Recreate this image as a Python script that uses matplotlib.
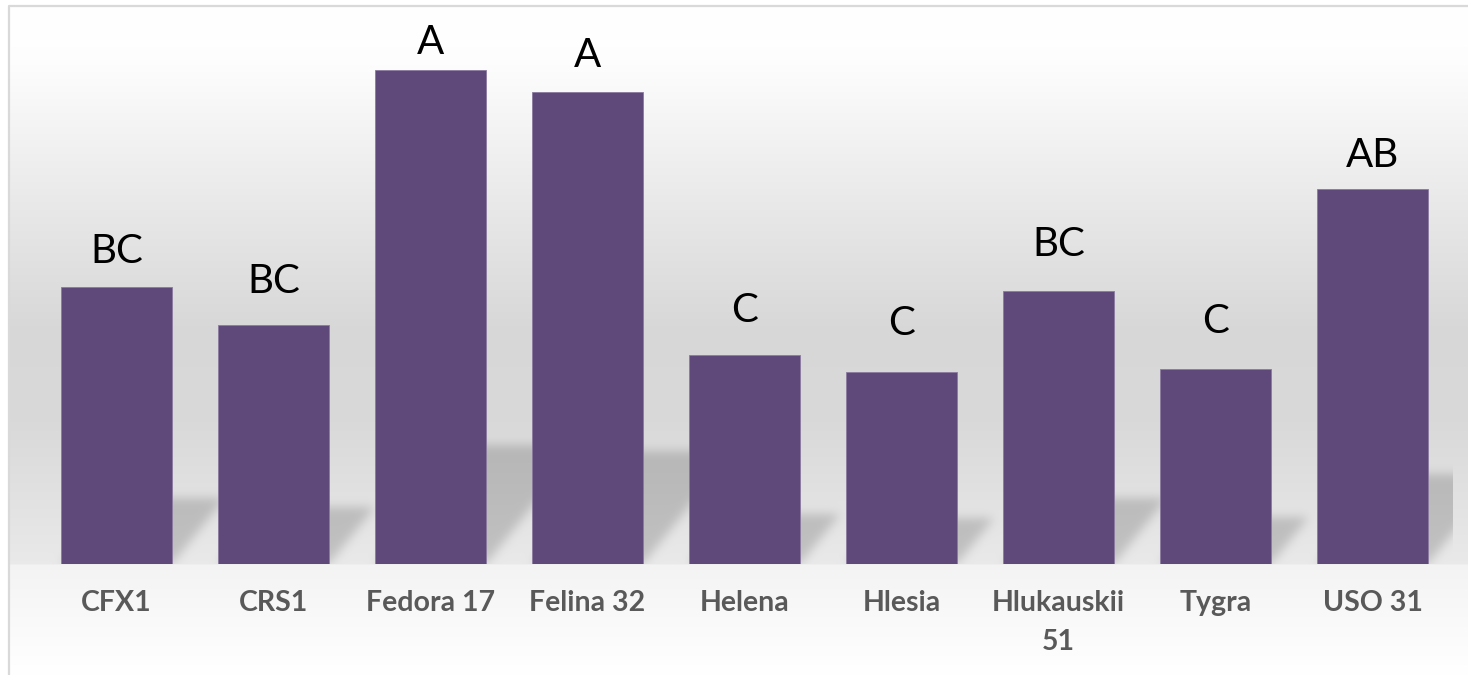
import matplotlib
matplotlib.use("Agg")
import matplotlib.pyplot as plt
import numpy as np

varieties = ["CFX1", "CRS1", "Fedora 17", "Felina 32", "Helena", "Hlesia",
             "Hlukauskii 51", "Tygra", "USO 31"]
tick_labels = ["CFX1", "CRS1", "Fedora 17", "Felina 32", "Helena", "Hlesia",
               "Hlukauskii\n51", "Tygra", "USO 31"]
values = [2.77, 2.39, 4.94, 4.72, 2.09, 1.92, 2.73, 1.95, 3.75]
groups = ["BC", "BC", "A", "A", "C", "C", "BC", "C", "AB"]
# gap between bar top and letter baseline, in pixels
group_gap_px = [24, 32, 16, 25, 33, 37, 35, 36, 22]

W, H, DPI = 1468, 675, 100
BAR_COLOR = "#5F497A"
BAR_WIDTH = 0.707
LABEL_GRAY = "#595959"
FONT = ["Lato", "DejaVu Sans"]

# background gradient stops: (pixel row from top, grey level)
BG_STOPS = [(0, 1.0), (60, 0.995), (200, 0.915), (330, 0.845), (420, 0.85),
            (564, 0.915), (565, 0.955), (675, 1.0)]

SHADOW_RATIO = 0.24   # shadow height relative to bar height
SHADOW_SLANT = 0.8    # horizontal shift per vertical pixel of the shadow
SHADOW_DARK = 0.17


def blur(a, sigma):
    r = int(3 * sigma)
    k = np.exp(-0.5 * (np.arange(-r, r + 1) / sigma) ** 2)
    k /= k.sum()
    a = np.apply_along_axis(lambda m: np.convolve(m, k, mode="same"), 0, a)
    a = np.apply_along_axis(lambda m: np.convolve(m, k, mode="same"), 1, a)
    return a


def main():
    plt.rcParams["font.family"] = FONT
    fig = plt.figure(figsize=(W / DPI, H / DPI), dpi=DPI)

    bg_ax = fig.add_axes([0, 0, 1, 1], zorder=-1)
    ax = fig.add_axes([38 / W, (H - 564) / H, (1451 - 38) / W, (564 - 15) / H],
                      zorder=1)

    x = np.arange(len(varieties))
    ax.set_xlim(-0.5, len(varieties) - 0.5)
    ax.set_ylim(0, 5.49)

    # background gradient + perspective shadows, rendered as an image
    rows = np.arange(H) + 0.5
    grey = np.interp(rows, [s[0] for s in BG_STOPS], [s[1] for s in BG_STOPS])
    bg = np.repeat(grey[:, None], W, axis=1)

    X, Y = np.meshgrid(np.arange(W) + 0.5, H - rows)
    mask = np.zeros((H, W))
    for i, v in enumerate(values):
        x0, yb = ax.transData.transform((i - BAR_WIDTH / 2, 0))
        x1, yt = ax.transData.transform((i + BAR_WIDTH / 2, v))
        vh = SHADOW_RATIO * (yt - yb)
        dy = Y - yb
        inside = ((dy >= 0) & (dy <= vh) &
                  (X >= x0 + SHADOW_SLANT * dy) & (X <= x1 + SHADOW_SLANT * dy))
        mask = np.maximum(mask, inside.astype(float))
    mask = blur(mask, 5)
    _, base = ax.transData.transform((0, 0))
    right = ax.transData.transform((len(varieties) - 0.5, 0))[0]
    mask[(Y < base) | (X > right + 2)] = 0
    img = bg * (1 - SHADOW_DARK * mask)
    img[:5, :] = 1.0
    img[:, :8] = 1.0
    bg_ax.imshow(np.dstack([img] * 3), extent=(0, W, 0, H), aspect="auto",
                 interpolation="none")
    bg_ax.set_xlim(0, W)
    bg_ax.set_ylim(0, H)
    bg_ax.axis("off")
    # chart border
    bg_ax.plot([9, 9, W + 5], [-5, H - 6, H - 6], color="#d9d9d9", lw=1.6)

    ax.bar(x, values, width=BAR_WIDTH, color=BAR_COLOR,
           edgecolor="#8a7aa0", linewidth=0.6)

    for i, (v, g) in enumerate(zip(values, groups)):
        ax.annotate(g, (i, v), xytext=(0, group_gap_px[i] * 72 / DPI),
                    textcoords="offset points", ha="center", va="baseline",
                    fontsize=29, color="black")

    ax.set_facecolor("none")
    for spine in ax.spines.values():
        spine.set_visible(False)
    ax.set_yticks([])
    ax.set_xticks(x, tick_labels)
    ax.tick_params(axis="x", length=0, pad=19)
    for lbl in ax.get_xticklabels():
        lbl.set_fontsize(20.5)
        lbl.set_fontweight("bold")
        lbl.set_color(LABEL_GRAY)
        lbl.set_linespacing(1.6)

    fig.savefig("out.png", dpi=DPI)


if __name__ == "__main__":
    main()
